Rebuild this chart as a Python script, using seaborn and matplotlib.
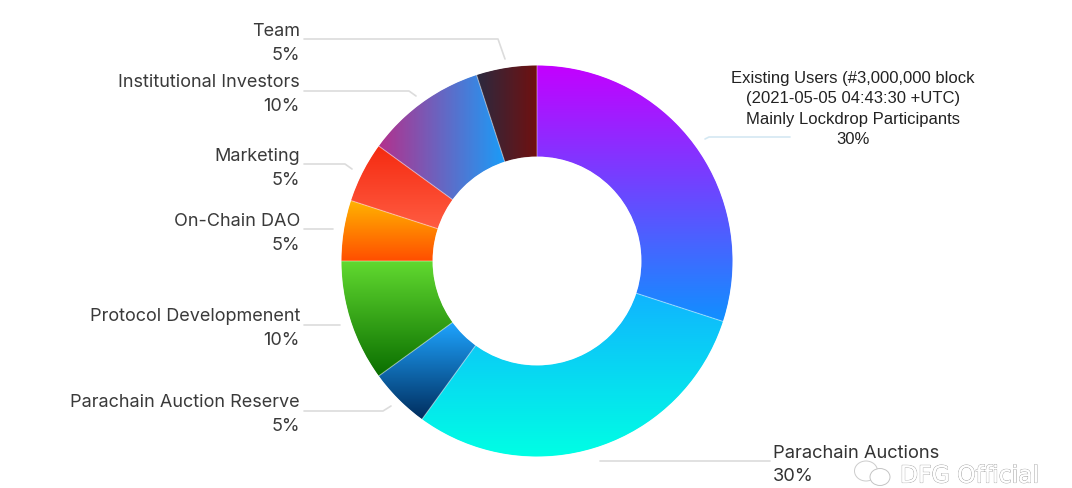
import matplotlib
matplotlib.use('Agg')
import numpy as np
import matplotlib.pyplot as plt
import matplotlib.patheffects as pe
from matplotlib.patches import Ellipse, Circle
import seaborn as sns

# values, clockwise from 12 o'clock
names = ['Existing Users', 'Parachain Auctions', 'Parachain Auction Reserve',
         'Protocol Developmenent', 'On-Chain DAO', 'Marketing',
         'Institutional Investors', 'Team']
shares = [30, 30, 5, 10, 5, 5, 10, 5]
existing_lines = ['Existing Users (#3,000,000 block', '(2021-05-05 04:43:30 +UTC)',
                  'Mainly Lockdrop Participants']

# gradient start / end colour per slice, and direction
grad_from = ['#C400FF', '#10B4FF', '#1EA4FF', '#62DA30', '#FFB400', '#F52A10', '#B4308C', '#2A2A40']
grad_to = ['#1090FF', '#00FFE4', '#002C5C', '#0A6E00', '#FF4E00', '#FF5C42', '#1A9CF8', '#701010']
grad_dir = ['v', 'v', 'v', 'v', 'v', 'v', 'h', 'h']

# label anchor in image pixels: x, y of name line, y of percent line
label_pos = {
    'Parachain Auction Reserve': (300, 403, 427),
    'Protocol Developmenent': (300, 317, 341),
    'On-Chain DAO': (300, 222, 246),
    'Marketing': (300, 157, 181),
    'Institutional Investors': (300, 83, 107),
    'Team': (300, 32, 56),
}
leaders = [
    ([304, 498, 505], [40, 40, 60]),
    ([304, 409, 416], [92, 92, 97]),
    ([304, 345, 352], [165, 165, 170]),
    ([304, 333], [230, 230]),
    ([304, 340], [326, 326]),
    ([304, 383, 391], [412, 412, 407]),
    ([600, 770], [462, 462]),
]

W, H = 1072, 489
CENTER = (537, H - 262)
R_OUT, R_IN = 196, 104

sns.set_theme(style='white')
plt.rcParams['font.family'] = ['Inter', 'DejaVu Sans']

fig = plt.figure(figsize=(W / 100, H / 100), dpi=100, facecolor='white')
ax = fig.add_axes([0, 0, 1, 1])

wedges, _ = ax.pie(shares, startangle=90, counterclock=False, center=CENTER,
                   radius=R_OUT, frame=True, wedgeprops={'width': R_OUT - R_IN})

for i, w in enumerate(wedges):
    box = w.get_path().get_extents()
    cmap = sns.blend_palette([grad_from[i], grad_to[i]], n_colors=128, as_cmap=True)
    g = np.linspace(0, 1, 256)
    g = g.reshape(-1, 1) if grad_dir[i] == 'v' else g.reshape(1, -1)
    im = ax.imshow(g, cmap=cmap, aspect='auto', origin='upper', zorder=1,
                   extent=(box.x0, box.x1, box.y0, box.y1))
    im.set_clip_path(w)
    w.set_facecolor('none')
    w.set_edgecolor((1, 1, 1, 0.22))
    w.set_linewidth(0.8)
    w.set_zorder(2)

# white rings hide the jagged clip edge
for r in (R_OUT + 0.3, R_IN - 0.3):
    ax.add_patch(Circle(CENTER, r, fc='none', ec='white', lw=1.0, zorder=2.5))

ax.set_xlim(0, W)
ax.set_ylim(0, H)
ax.axis('off')


def py(y):
    return H - y


for name, share in zip(names, shares):
    if name in label_pos:
        x, y1, y2 = label_pos[name]
        ax.text(x, py(y1), name, ha='right', va='center', fontsize=13, color='#3a3a3a')
        ax.text(x, py(y2), f'{share}%', ha='right', va='center', fontsize=13, color='#3a3a3a')

ax.text(773, py(454), names[1], ha='left', va='center', fontsize=13.2, color='#333333')
ax.text(773, py(477), f'{shares[1]}%', ha='left', va='center', fontsize=13.2, color='#333333')

for line, y in zip(existing_lines + [f'{shares[0]}%'], [79, 99, 120, 140]):
    ax.text(853, py(y), line, ha='center', va='center', fontsize=12,
            family='Liberation Sans', color='#222222')

for xs, ys in leaders:
    ax.plot(xs, [py(y) for y in ys], color='#dcdcdc', lw=1.2, zorder=0)
ax.plot([705, 709, 790], [py(140), py(138), py(138)], color='#d4e8f2', lw=1.2, zorder=0)

# watermark
ax.text(900, py(477), 'DFG Official', ha='left', va='center', fontsize=16.9,
        family='DejaVu Sans', color='white',
        path_effects=[pe.withStroke(linewidth=0.8, foreground='#a0a0a0'), pe.Normal()])
ax.add_patch(Ellipse((866, py(472)), 23, 20, fc='none', ec='#cccccc', lw=0.7, zorder=3))
ax.add_patch(Ellipse((880, py(478)), 20, 17, fc='white', ec='#c4c4c4', lw=0.7, zorder=3))

fig.savefig('out.png', dpi=100)
